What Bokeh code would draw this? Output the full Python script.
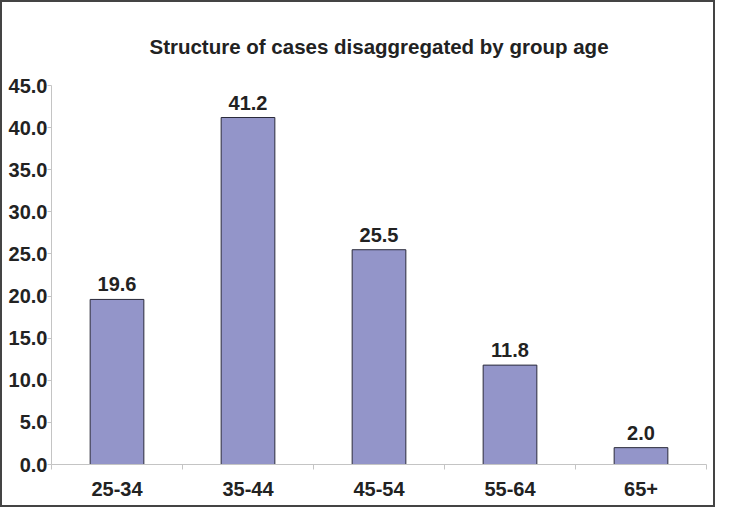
from bokeh.plotting import figure
from bokeh.models import (Range1d, LinearAxis, FixedTicker, Title,
                          NumeralTickFormatter, ColumnDataSource)
from bokeh.core.properties import value
from bokeh.embed import file_html
from bokeh.resources import INLINE

title_text = "Structure of cases disaggregated by group age"
age_groups = ["25-34", "35-44", "45-54", "55-64", "65+"]
percent = [19.6, 41.2, 25.5, 11.8, 2.0]
y_ticks = [0, 5, 10, 15, 20, 25, 30, 35, 40, 45]

FONT = "Liberation Sans"
TXT = "#222222"
AXC = "#c4c4c4"
W, H = 715, 507
Y_MAX = 45

n = len(age_groups)
centers = [i + 0.5 for i in range(n)]
boundaries = list(range(n + 1))

p = figure(width=W, height=H, x_range=Range1d(0, n), y_range=Range1d(0, Y_MAX),
           output_backend="svg", toolbar_location=None, x_axis_location=None,
           min_border_left=49, min_border_right=11, min_border_top=83, min_border_bottom=45,
           background_fill_color="white", border_fill_color="white")
p.styles = {"border": "2px solid #444444"}
p.outline_line_color = None
p.xgrid.visible = False
p.ygrid.visible = False

# title
t = Title(text=title_text, align="center", offset=8, standoff=56,
          text_font=FONT, text_font_size="20.5px", text_font_style="bold", text_color=TXT)
p.add_layout(t, "above")

# y axis
ya = p.yaxis[0]
ya.ticker = FixedTicker(ticks=y_ticks)
ya.formatter = NumeralTickFormatter(format="0.0")
ya.axis_line_color = AXC
ya.major_tick_line_color = AXC
ya.major_tick_out = 4
ya.major_tick_in = 0
ya.minor_tick_line_color = None
ya.major_label_standoff = 0
ya.major_label_text_font = FONT
ya.major_label_text_font_size = "20px"
ya.major_label_text_font_style = "bold"
ya.major_label_text_color = TXT

# x axis: labels at category centres, tick marks at category boundaries
xa = LinearAxis(ticker=FixedTicker(ticks=centers, minor_ticks=boundaries))
xa.major_label_overrides = {c: g for c, g in zip(centers, age_groups)}
xa.axis_line_color = AXC
xa.major_tick_line_color = None
xa.major_tick_out = 5
xa.major_tick_in = 0
xa.minor_tick_line_color = AXC
xa.minor_tick_out = 5
xa.minor_tick_in = 0
xa.major_label_standoff = 12
xa.major_label_text_font = FONT
xa.major_label_text_font_size = "20px"
xa.major_label_text_font_style = "bold"
xa.major_label_text_color = TXT
p.add_layout(xa, "below")

src = ColumnDataSource(dict(x=centers, y=percent, lab=["%.1f" % v for v in percent]))
p.vbar(x="x", top="y", bottom=0, width=0.41, source=src,
       fill_color="#9395c9", line_color="#2a2a3a", line_width=1)
p.text(x="x", y="y", text="lab", source=src, y_offset=-15,
       text_align="center", text_baseline="alphabetic",
       text_font=value(FONT), text_font_size="20px", text_font_style="bold", text_color=TXT)

open("out.html", "w").write(file_html(p, INLINE))
